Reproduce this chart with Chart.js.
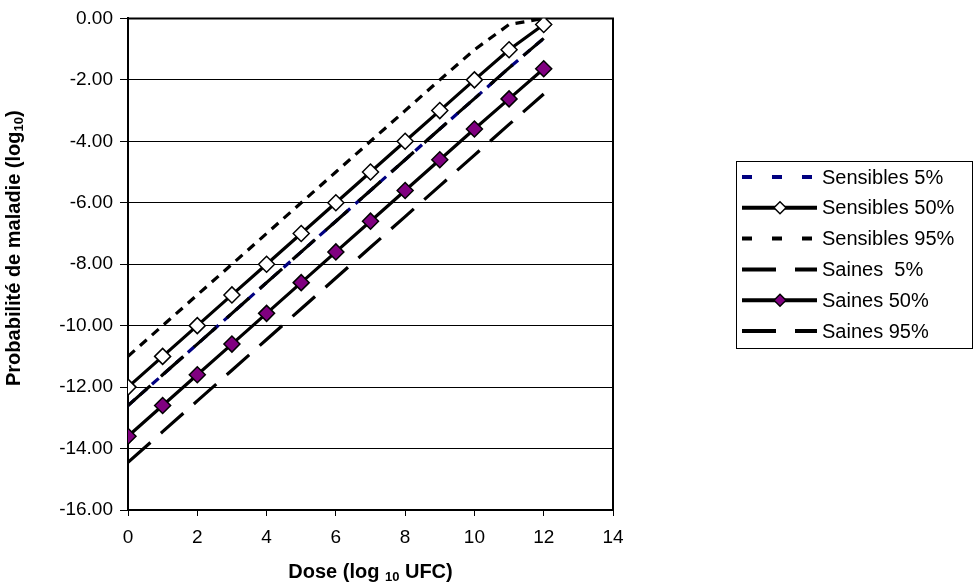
<!DOCTYPE html>
<html>
<head>
<meta charset="utf-8">
<script src="https://cdn.jsdelivr.net/npm/chart.js@4.4.0/dist/chart.umd.min.js"></script>
<style>
    html, body { margin: 0; padding: 0; background: #fff; }
    #cadre { width: 973px; height: 585px; }
</style>
</head>
<body>
<div id="cadre"><canvas id="graphique" width="973" height="585"></canvas></div>
<script>
// Dose (log10 UFC) en abscisse, probabilité de maladie (log10) en ordonnée
const doses = [0, 1, 2, 3, 4, 5, 6, 7, 8, 9, 10, 11, 12];
const sensibles5  = [-12.60, -11.60, -10.60, -9.60, -8.60, -7.60, -6.60, -5.60, -4.60, -3.60, -2.61, -1.61, -0.65];
const sensibles50 = [-12.00, -11.00, -10.00, -9.00, -8.00, -7.00, -6.00, -5.00, -4.00, -3.00, -2.00, -1.02, -0.20];
const sensibles95 = [-11.00, -10.00, -9.00, -8.00, -7.00, -6.00, -5.00, -4.00, -3.00, -2.00, -1.02, -0.20, 0.00];
const saines5     = [-14.45, -13.45, -12.45, -11.45, -10.45, -9.45, -8.45, -7.45, -6.45, -5.45, -4.45, -3.45, -2.46];
const saines50    = [-13.60, -12.60, -11.60, -10.60, -9.60, -8.60, -7.60, -6.60, -5.60, -4.60, -3.60, -2.62, -1.64];
const saines95    = [-12.60, -11.60, -10.60, -9.60, -8.60, -7.60, -6.60, -5.60, -4.60, -3.60, -2.61, -1.61, -0.65];
const libelles = ['Sensibles 5%', 'Sensibles 50%', 'Sensibles 95%', 'Saines  5%', 'Saines 50%', 'Saines 95%'];

const POLICE = "'Liberation Sans', Arial, sans-serif";
const TAILLE = 19;

Chart.defaults.font.family = POLICE;
Chart.defaults.font.size = TAILLE;
Chart.defaults.color = '#000';

function points(valeurs) {
    return doses.map((d, i) => ({ x: d, y: valeurs[i] }));
}

function serie(idx, valeurs, style) {
    return Object.assign({
        label: libelles[idx],
        data: points(valeurs),
        borderColor: '#000',
        borderWidth: 3.2,
        pointRadius: 0,
        pointHoverRadius: 0,
        fill: false,
        tension: 0,
        order: 6 - idx
    }, style);
}

const jeux = [
    serie(0, sensibles5,  { borderColor: '#000080', borderDash: [9, 7], legendDash: [10, 20] }),
    serie(1, sensibles50, { pointStyle: 'rectRot', pointRadius: 8, pointBackgroundColor: '#fff', pointBorderColor: '#000', pointBorderWidth: 1.5 }),
    serie(2, sensibles95, { borderDash: [9, 7], legendDash: [10, 20] }),
    serie(3, saines5,     { borderDash: [30, 14], legendDash: [34, 19] }),
    serie(4, saines50,    { pointStyle: 'rectRot', pointRadius: 8, pointBackgroundColor: '#800080', pointBorderColor: '#000', pointBorderWidth: 1.5 }),
    serie(5, saines95,    { borderDash: [30, 14], legendDash: [34, 19] })
];

// cadre, titres d'axes avec indices et légende dessinés à la main
const decor = {
    id: 'decor',
    beforeDatasetsDraw(chart) {
        const { ctx, chartArea: a } = chart;
        ctx.save();
        ctx.strokeStyle = '#000';
        ctx.lineWidth = 2;
        ctx.beginPath();
        ctx.moveTo(a.left, a.top);
        ctx.lineTo(a.right, a.top);
        ctx.lineTo(a.right, a.bottom);
        ctx.stroke();
        ctx.restore();
    },
    afterDraw(chart) {
        const { ctx, chartArea: a } = chart;
        ctx.save();
        ctx.fillStyle = '#000';
        ctx.textBaseline = 'alphabetic';

        // titre X : Dose (log 10 UFC)
        const gras = 'bold 20px ' + POLICE;
        const indice = 'bold 13px ' + POLICE;
        const morceauxX = [['Dose (log ', gras, 0], ['10', indice, 3], [' UFC)', gras, 0]];
        dessinerTexte(ctx, morceauxX, (a.left + a.right) / 2, 578);

        // titre Y, tourné
        ctx.translate(20, (a.top + a.bottom) / 2 - 16);
        ctx.rotate(-Math.PI / 2);
        const morceauxY = [['Probabilité de maladie (log', gras, 0], ['10', indice, 3], [')', gras, 0]];
        dessinerTexte(ctx, morceauxY, 0, 0);
        ctx.restore();

        // légende
        ctx.save();
        ctx.strokeStyle = '#000';
        ctx.lineWidth = 1;
        ctx.strokeRect(736.5, 161.5, 236, 187);
        ctx.font = '20px ' + POLICE;
        ctx.textBaseline = 'middle';
        chart.data.datasets.forEach((ds, i) => {
            const y = 177 + i * 30.8;
            ctx.save();
            ctx.strokeStyle = ds.borderColor;
            ctx.lineWidth = 4;
            ctx.setLineDash(ds.legendDash || []);
            ctx.beginPath();
            ctx.moveTo(742, y);
            ctx.lineTo(817, y);
            ctx.stroke();
            ctx.restore();
            if (ds.pointRadius > 0) {
                const r = 6;
                ctx.beginPath();
                ctx.moveTo(780 - r, y);
                ctx.lineTo(780, y - r);
                ctx.lineTo(780 + r, y);
                ctx.lineTo(780, y + r);
                ctx.closePath();
                ctx.fillStyle = ds.pointBackgroundColor;
                ctx.fill();
                ctx.lineWidth = 1.5;
                ctx.strokeStyle = '#000';
                ctx.stroke();
            }
            ctx.fillStyle = '#000';
            ctx.fillText(ds.label, 822, y + 1);
        });
        ctx.restore();
    }
};

function dessinerTexte(ctx, morceaux, cx, y) {
    let total = 0;
    morceaux.forEach(m => { ctx.font = m[1]; total += ctx.measureText(m[0]).width; });
    let x = cx - total / 2;
    ctx.textAlign = 'left';
    morceaux.forEach(m => {
        ctx.font = m[1];
        ctx.fillText(m[0], x, y + m[2]);
        x += ctx.measureText(m[0]).width;
    });
}

new Chart(document.getElementById('graphique'), {
    type: 'line',
    data: { datasets: jeux },
    options: {
        responsive: false,
        animation: false,
        events: [],
        layout: { padding: { top: 15, right: 360, left: 0, bottom: 0 } },
        plugins: { legend: { display: false }, tooltip: { enabled: false } },
        scales: {
            x: {
                type: 'linear',
                min: 0,
                max: 14,
                ticks: { stepSize: 2, padding: 10, color: '#000', maxRotation: 0 },
                grid: { drawOnChartArea: false, drawTicks: true, tickLength: 6, color: '#000', lineWidth: 1 },
                border: { color: '#000', width: 2 },
                afterFit(s) { s.height = 75; }
            },
            y: {
                min: -16,
                max: 0,
                ticks: { stepSize: 2, padding: 7, color: '#000', callback: v => v.toFixed(2) },
                grid: { color: '#000', lineWidth: 1, tickLength: 8 },
                border: { color: '#000', width: 2 },
                afterFit(s) { s.width = 128; }
            }
        }
    },
    plugins: [decor]
});
</script>
</body>
</html>
